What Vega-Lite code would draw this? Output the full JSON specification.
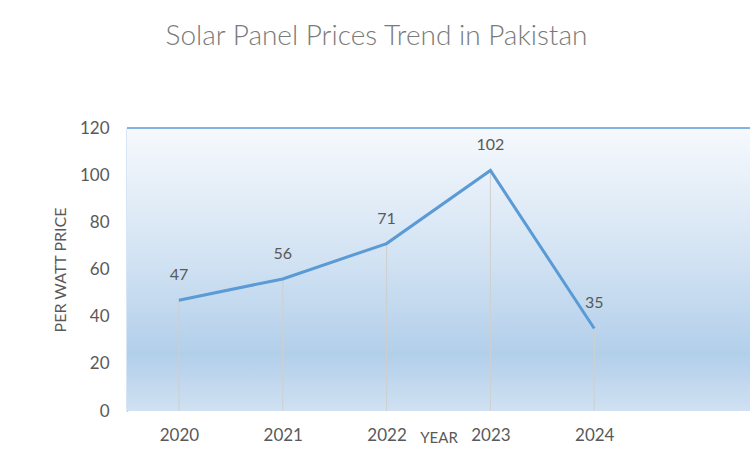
{
  "$schema": "https://vega.github.io/schema/vega-lite/v6.json",
  "width": 623,
  "height": 283,
  "autosize": {"type": "none"},
  "padding": {"left": 127, "top": 128, "right": 2, "bottom": 41},
  "background": "white",
  "config": {
    "font": "Lato",
    "view": {"stroke": null}
  },
  "title": {
    "text": "Solar Panel Prices Trend in Pakistan",
    "font": "Lato",
    "fontSize": 28,
    "fontWeight": 300,
    "letterSpacing": 0.8,
    "color": "#7a7a7a",
    "anchor": "middle",
    "frame": "group",
    "dx": -62,
    "offset": 68
  },
  "datasets": {
    "prices": [
      {"year": 2020, "price": 47},
      {"year": 2021, "price": 56},
      {"year": 2022, "price": 71},
      {"year": 2023, "price": 102},
      {"year": 2024, "price": 35}
    ],
    "bg": [{}]
  },
  "layer": [
    {
      "data": {"name": "bg"},
      "mark": {
        "type": "rect",
        "color": {
          "gradient": "linear",
          "x1": 0, "y1": 0, "x2": 0, "y2": 1,
          "stops": [
            {"offset": 0, "color": "#f6f9fd"},
            {"offset": 0.45, "color": "#d3e3f3"},
            {"offset": 0.8, "color": "#b2cfea"},
            {"offset": 1, "color": "#d0e1f2"}
          ]
        }
      },
      "encoding": {
        "y": {"datum": 0, "type": "quantitative"},
        "y2": {"datum": 120}
      }
    },
    {
      "data": {"name": "bg"},
      "mark": {"type": "rule", "color": "#5b9bd5", "strokeWidth": 1.5},
      "encoding": {
        "y": {"datum": 120, "type": "quantitative"}
      }
    },
    {
      "data": {"name": "prices"},
      "mark": {"type": "rule", "color": "#cfcfcf", "strokeWidth": 1},
      "encoding": {
        "x": {
          "field": "year",
          "type": "quantitative",
          "scale": {"domain": [2019.5, 2025.5], "nice": false, "zero": false},
          "axis": {
            "title": "YEAR",
            "values": [2020, 2021, 2022, 2023, 2024],
            "format": "d",
            "grid": false,
            "domain": false,
            "ticks": false,
            "labelFontSize": 17,
            "labelColor": "#595959",
            "labelPadding": 16,
            "labelFont": "Lato",
            "titleFont": "Lato",
            "titleFontSize": 15,
            "titleFontWeight": "normal",
            "titleColor": "#595959",
            "titleY": 26,
            "titleBaseline": "middle"
          }
        },
        "y": {
          "field": "price",
          "type": "quantitative",
          "scale": {"domain": [0, 120], "nice": false},
          "axis": {
            "title": "PER WATT PRICE",
            "values": [0, 20, 40, 60, 80, 100, 120],
            "grid": false,
            "ticks": false,
            "domain": true,
            "domainColor": "#5b9bd5",
            "domainWidth": 1.5,
            "labelFontSize": 17,
            "labelColor": "#595959",
            "labelPadding": 18,
            "labelFont": "Lato",
            "titleFont": "Lato",
            "titleFontSize": 16,
            "titleFontWeight": "normal",
            "titleColor": "#595959",
            "titlePadding": 11
          }
        },
        "y2": {"datum": 0}
      }
    },
    {
      "data": {"name": "prices"},
      "mark": {"type": "line", "color": "#5b9bd5", "strokeWidth": 3},
      "encoding": {
        "x": {"field": "year", "type": "quantitative"},
        "y": {"field": "price", "type": "quantitative"}
      }
    },
    {
      "data": {"name": "prices"},
      "mark": {"type": "text", "fontSize": 16, "color": "#595959", "baseline": "bottom", "dy": -17, "font": "Lato"},
      "encoding": {
        "x": {"field": "year", "type": "quantitative"},
        "y": {"field": "price", "type": "quantitative"},
        "text": {"field": "price", "type": "quantitative"}
      }
    }
  ]
}
